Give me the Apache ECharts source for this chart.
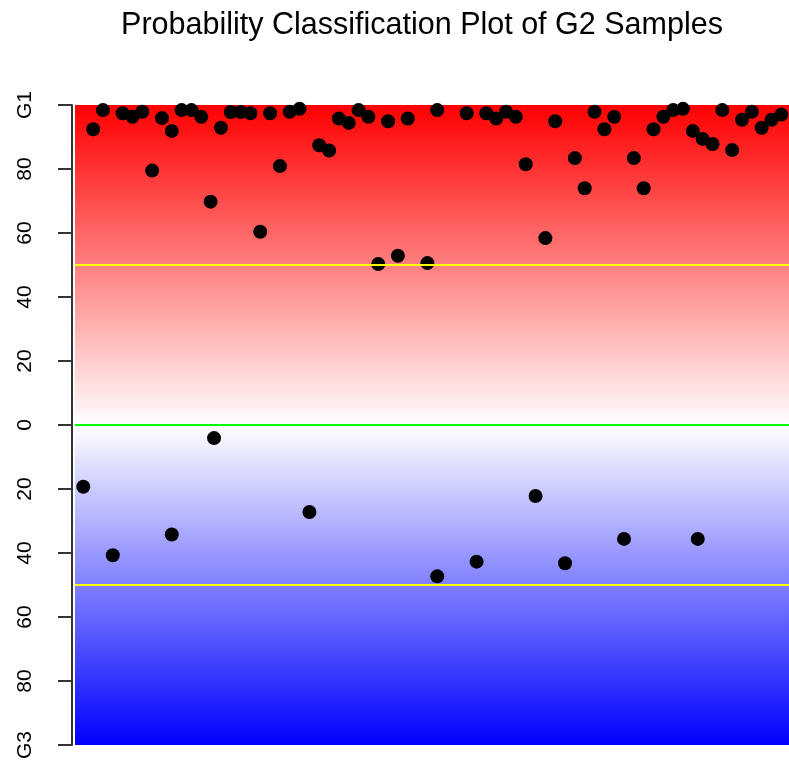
<!DOCTYPE html>
<html>
<head>
<meta charset="utf-8">
<script src="https://cdn.jsdelivr.net/npm/echarts@6/dist/echarts.min.js"></script>
<style>html,body{margin:0;padding:0;background:#fff;}#c{width:789px;height:763px;}</style>
</head>
<body>
<div id="c"></div>
<script>
var title = "Probability Classification Plot of G2 Samples";
var sampleIndex = [1,2,3,4,5,6,7,8,9,10,10,11,12,13,13.95,14.3,15,16,17,18,19,20,21,22,23,24,25,26,27,28,29,30,31,32,33,34,36,37,37,40,41,42,43,44,45,46,47,48,49,50,51,52,53,54,55,56,57,58,59,60,61,62,63,63.5,64,65,66,67,68,69,70,71,72];
var probability = [-19.3,92.4,98.4,-40.7,97.4,96.3,97.9,79.5,95.9,91.9,-34.2,98.4,98.4,96.3,69.8,-4.1,92.9,97.8,97.8,97.4,60.4,97.4,80.9,97.9,98.8,-27.2,87.4,85.8,95.8,94.4,98.4,96.3,50.3,94.9,52.9,95.8,50.6,98.4,-47.3,97.4,-42.7,97.4,95.8,97.9,96.3,81.5,-22.2,58.4,94.9,-43.2,83.4,74.0,97.9,92.4,96.3,-35.6,83.4,74.0,92.4,96.3,98.4,98.8,91.9,-35.6,89.4,87.8,98.4,85.9,95.4,97.9,92.9,95.4,97.0];
var yTickValues = [100,80,60,40,20,0,-20,-40,-60,-80,-100];
var yTickLabels = ["G1","80","60","40","20","0","20","40","60","80","G3"];
var thresholdLines = [50,-50];
var centerLine = [0];

var points = sampleIndex.map(function(x,i){return [x, probability[i]];});
var chart = echarts.init(document.getElementById('c'), null, {renderer:'canvas'});
chart.setOption({
  animation:false,
  title:{text:title,left:417,textAlign:'center',top:5,textStyle:{fontFamily:'Liberation Sans, Arial, sans-serif',fontWeight:'normal',fontSize:30.5,color:'#000'}},
  grid:{left:75,right:0,top:105,bottom:18,show:true,borderWidth:0,
    backgroundColor:new echarts.graphic.LinearGradient(0,0,0,1,[
      {offset:0,color:'#ff0000'},{offset:0.5,color:'#ffffff'},{offset:1,color:'#0000ff'}])},
  xAxis:{type:'value',min:0.156,max:72.78,show:false,splitLine:{show:false}},
  yAxis:{type:'value',min:-100,max:100,interval:20,offset:3,
    splitLine:{show:false},
    axisLine:{show:true,lineStyle:{color:'#333',width:2}},
    axisTick:{show:true,length:14,lineStyle:{color:'#333',width:2}},
    axisLabel:{rotate:90,margin:36,fontSize:21,color:'#000',fontFamily:'Liberation Sans, Arial, sans-serif',
      formatter:function(v){var i=yTickValues.indexOf(v);return i>=0?yTickLabels[i]:'';}}},
  series:[{type:'scatter',data:points,symbol:'circle',symbolSize:14,itemStyle:{color:'#000',opacity:1},
    markLine:{silent:true,symbol:['none','none'],label:{show:false},
      data:[
        {yAxis:thresholdLines[0],lineStyle:{color:'#ffff00',width:2,type:'solid'}},
        {yAxis:thresholdLines[1],lineStyle:{color:'#ffff00',width:2,type:'solid'}},
        {yAxis:centerLine[0],lineStyle:{color:'#00ff00',width:2,type:'solid'}}
      ]},
    z:3}]
});
</script>
</body>
</html>
